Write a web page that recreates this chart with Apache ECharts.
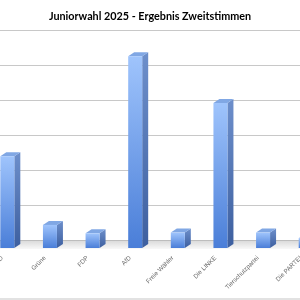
<!DOCTYPE html>
<html><head><meta charset="utf-8">
<script src="https://cdn.jsdelivr.net/npm/echarts@6/dist/echarts.min.js"></script>
<style>html,body{margin:0;padding:0;background:#fff;overflow:hidden}#c{position:absolute;left:-27px;top:0;width:354px;height:300px}</style>
</head><body><div id="c"></div>
<script>
const categories = ['SPD','Grüne','FDP','AfD','Freie Wähler','Die LINKE','Tierschutzpartei','Die PARTEI'];
const values = [13.1, 3.3, 2.1, 27.4, 2.2, 20.7, 2.2, 1.4];
const yTicks = [0, 5, 10, 15, 20, 25, 30];

const chart = echarts.init(document.getElementById('c'), null, {renderer:'canvas'});
const FW = 7, DX = 6, DY = 4, FRONT = 8;

function renderBar(params, api){
  const idx = api.value(0), v = api.value(1);
  const top = api.coord([idx, v]);
  const base = api.coord([idx, 0]);
  const c = top[0];
  const yt = top[1] + FRONT, yb = base[1] + FRONT;
  const l = c - FW, r = c + FW;
  return {type:'group', children:[
    {type:'polygon', shape:{points:[[r,yt],[r+DX,yt-DY],[r+DX,yb-DY],[r,yb]]},
     style:{fill:new echarts.graphic.LinearGradient(0,0,0,1,[{offset:0,color:'#6d8fcb'},{offset:1,color:'#3d5f9f'}])}},
    {type:'polygon', shape:{points:[[l,yt],[l+DX,yt-DY],[r+DX,yt-DY],[r,yt]]},
     style:{fill:'#80a7e4'}},
    {type:'rect', shape:{x:l, y:yt, width:2*FW, height:yb-yt},
     style:{fill:new echarts.graphic.LinearGradient(0,0,0,1,[{offset:0,color:'#9fc4fc'},{offset:1,color:'#4a7ed8'}])}}
  ]};
}
function renderFloor(params, api){
  const y0 = api.coord([0,0])[1];
  return {type:'group', children:[
    {type:'polygon', shape:{points:[[0,y0],[400,y0],[400,y0+FRONT+1],[0,y0+FRONT+1]]},
     style:{fill:new echarts.graphic.LinearGradient(0,0,0,1,[{offset:0,color:'#d8d8d8'},{offset:1,color:'#f8f8f8'}])}},
    {type:'line', shape:{x1:0,y1:y0+0.5,x2:400,y2:y0+0.5}, style:{stroke:'#bdbdbd',lineWidth:1}}
  ]};
}

chart.setOption({
  animation:false,
  title:{text:'Juniorwahl 2025 - Ergebnis Zweitstimmen', left:'center', top:6,
    textStyle:{fontFamily:'Lato', fontWeight:'bold', fontSize:10.8, color:'#000'}},
  grid:[
    {left:13, right:0, top:30, bottom:60, containLabel:false},
    {left:8, right:5, top:30, bottom:60, containLabel:false}
  ],
  xAxis:[
    {type:'category', data:categories, gridIndex:0,
     axisLine:{show:false}, axisTick:{show:false}, axisLabel:{show:false}},
    {type:'category', data:categories, gridIndex:1, offset:11,
     axisLine:{show:true, lineStyle:{color:'#d9d9d9'}},
     axisTick:{show:true, length:3, lineStyle:{color:'#bfbfbf'}},
     axisLabel:{rotate:45, interval:0, margin:6, fontSize:6.3, color:'#6a6a6a', fontFamily:'Liberation Sans'}}
  ],
  yAxis:[
    {type:'value', gridIndex:0, min:yTicks[0], max:yTicks[yTicks.length-1], interval:5,
     axisLabel:{show:false}, axisLine:{show:false}, axisTick:{show:false},
     splitLine:{show:true, lineStyle:{color:'#c8c8c8', width:1}}},
    {type:'value', gridIndex:1, min:yTicks[0], max:yTicks[yTicks.length-1], interval:5,
     axisLabel:{show:false}, axisLine:{show:false}, axisTick:{show:false}, splitLine:{show:false}}
  ],
  graphic:[{type:'line', shape:{x1:0,y1:299,x2:400,y2:299}, style:{stroke:'#d9d9d9',lineWidth:1.5}}],
  series:[
    {type:'custom', renderItem:renderFloor, data:[[0,0]], z:1, clip:false, xAxisIndex:0, yAxisIndex:0},
    {type:'custom', renderItem:renderBar, data:values.map((v,i)=>[i,v]), z:2, clip:false, xAxisIndex:0, yAxisIndex:0}
  ]
});
</script></body></html>
